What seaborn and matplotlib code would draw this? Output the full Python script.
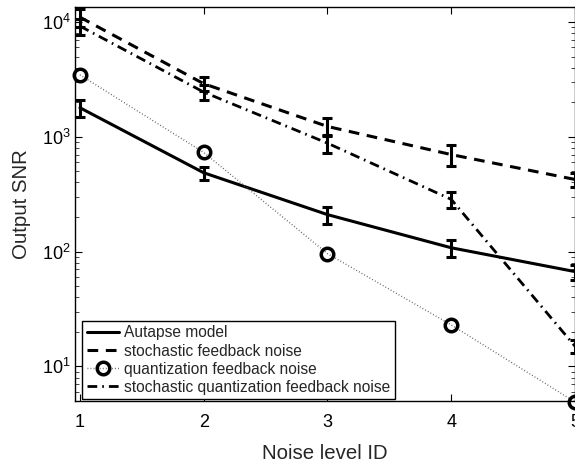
import numpy as np
import pandas as pd
import matplotlib
matplotlib.use("Agg")
import matplotlib.pyplot as plt
import seaborn as sns
from matplotlib.lines import Line2D
from matplotlib.ticker import LogLocator, NullFormatter, LogFormatterSciNotation

noise_ids = [1, 2, 3, 4, 5]
autapse = [1790, 486, 210, 108, 67]
autapse_err = [300, 65, 35, 18, 10]
stochastic = [11000, 2900, 1230, 700, 425]
stochastic_err = [2000, 400, 220, 140, 60]
quantization = [3460, 730, 96, 23, 4.9]
stoch_quant = [9200, 2450, 880, 285, 15]
stoch_quant_err = [1500, 350, 160, 45, 2]
labels = ["Autapse model", "stochastic feedback noise",
          "quantization feedback noise", "stochastic quantization feedback noise"]

sns.set_theme(style="ticks")
plt.rcParams["font.family"] = ["Liberation Sans", "DejaVu Sans"]
plt.rcParams["mathtext.fontset"] = "custom"
plt.rcParams["mathtext.rm"] = "Liberation Sans"
plt.rcParams["mathtext.it"] = "Liberation Sans:italic"
plt.rcParams["xtick.direction"] = "in"
plt.rcParams["ytick.direction"] = "in"

fig = plt.figure(figsize=(5.75, 4.65), dpi=100)
ax = fig.add_axes([75 / 575, 1 - 401 / 465, 1 - 75 / 575, (401 - 7) / 465])

df = pd.DataFrame({
    "x": noise_ids * 4,
    "y": autapse + stochastic + quantization + stoch_quant,
    "s": sum([[l] * 5 for l in labels], []),
})

sns.lineplot(data=df[df.s == labels[0]], x="x", y="y", ax=ax, color="black",
             lw=2.2, legend=False)
sns.lineplot(data=df[df.s == labels[1]], x="x", y="y", ax=ax, color="black",
             lw=2.2, legend=False)
ax.lines[-1].set_dashes((3.5, 2.5))
sns.lineplot(data=df[df.s == labels[2]], x="x", y="y", ax=ax, color="#555555",
             lw=1.0, legend=False)
ax.lines[-1].set_dashes((0.6, 1.6))
sns.lineplot(data=df[df.s == labels[3]], x="x", y="y", ax=ax, color="black",
             lw=2.0, legend=False)
ax.lines[-1].set_dashes((3.5, 1.8, 0.6, 1.8))

ax.plot(noise_ids, quantization, ls="none", marker="o", ms=9, mew=2.5,
        mfc="none", mec="black", clip_on=False, zorder=5)

for vals, err in [(autapse, autapse_err), (stochastic, stochastic_err),
                  (stoch_quant, stoch_quant_err)]:
    ax.errorbar(noise_ids, vals, yerr=err, fmt="none", ecolor="black",
                elinewidth=2.2, capsize=3.4, capthick=2.2, zorder=4)

ax.set_yscale("log")
ax.set_xlim(0.96, 5.0)
ax.set_ylim(5.0, 13500)
ax.set_xticks(noise_ids)
ax.set_xticklabels([str(v) for v in noise_ids])
ax.yaxis.set_major_locator(LogLocator(base=10, numticks=10))
ax.yaxis.set_major_formatter(LogFormatterSciNotation())
ax.yaxis.set_minor_locator(LogLocator(base=10, subs=np.arange(2, 10), numticks=20))
ax.yaxis.set_minor_formatter(NullFormatter())
ax.tick_params(axis="both", which="major", labelsize=13, length=5, width=0.8,
               top=True, right=True, colors="black")
ax.tick_params(axis="x", which="major", pad=9.5)
ax.tick_params(axis="y", which="major", pad=3)
ax.tick_params(axis="y", which="minor", length=3, width=0.6, right=True)
for sp in ax.spines.values():
    sp.set_color("black")
    sp.set_linewidth(1.0)

ax.set_xlabel("Noise level ID", fontsize=14.7, labelpad=9)
ax.set_ylabel("Output SNR", fontsize=14.7, labelpad=8)

handles = [
    Line2D([], [], color="black", lw=2.2),
    Line2D([], [], color="black", lw=2.2, dashes=(3.5, 2.5)),
    Line2D([], [], color="#555555", lw=1.0, dashes=(0.6, 1.6), marker="o", ms=9,
           mew=2.5, mfc="none", mec="black"),
    Line2D([], [], color="black", lw=2.0, dashes=(3.5, 1.8, 0.6, 1.8)),
]
leg = ax.legend(handles, labels, loc="lower left", bbox_to_anchor=(0.014, 0.004),
                fontsize=11.2, frameon=True, fancybox=False, framealpha=1,
                edgecolor="black", handlelength=2.1, handletextpad=0.3,
                labelspacing=0.2, borderpad=0.3, borderaxespad=0.0)
leg.get_frame().set_linewidth(1.0)

fig.savefig("out.png", dpi=100)
